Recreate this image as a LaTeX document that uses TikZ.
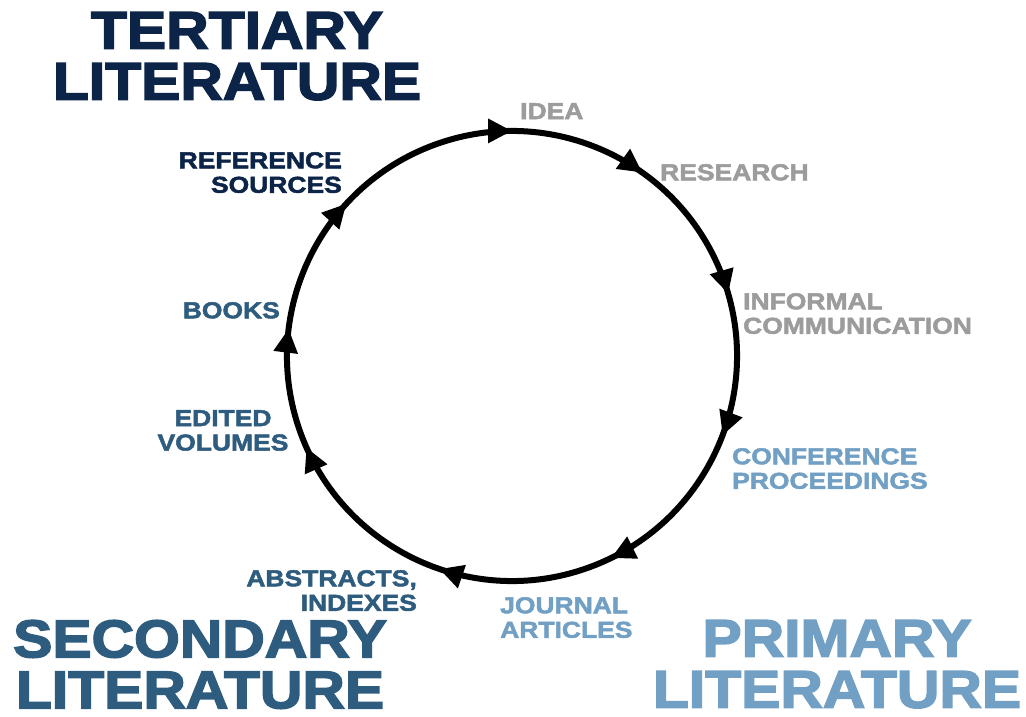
\documentclass[tikz,border=0pt]{standalone}
\usepackage{fontspec}
\setmainfont{Liberation Sans}
\newfontfamily\labfont{Liberation Sans}[FakeStretch=1.15,FakeBold=2.2]
\newfontfamily\ttlfont{Liberation Sans}[FakeStretch=1.11,FakeBold=3]
\usetikzlibrary{decorations.markings,arrows.meta,calc}
\definecolor{tert}{HTML}{0B2447}
\definecolor{sec}{HTML}{2E5C7E}
\definecolor{prim}{HTML}{72A0C4}
\definecolor{grey1}{HTML}{9C9C9C}
\pgfkeys{/pgf/decoration/tipmark/.style={mark=at position #1 with {\arrow{Triangle[length=24pt,width=23pt]}}}}
\tikzset{
  lab/.style={inner sep=0pt, font=\labfont\bfseries\fontsize{23}{24.5}\selectfont},
  ttl/.style={inner sep=0pt, align=center, font=\ttlfont\bfseries\fontsize{53}{51}\selectfont},
  cyc/.style={line width=6pt, postaction={decorate}, decoration={markings,
    tipmark=0.0556, tipmark=0.154, tipmark=0.261, tipmark=0.363, tipmark=0.483,
    tipmark=0.608, tipmark=0.739, tipmark=0.825, tipmark=0.924}}
}
\begin{document}
\begin{tikzpicture}[x=1pt,y=-1pt]
\fill[white] (0,0) rectangle (1026,717);
\useasboundingbox (0,0) rectangle (1026,717);
\coordinate (c) at (512,356);
\draw[cyc] ($(c)+(-110:225)$) arc[start angle=-110,end angle=250,radius=225];

% titles
\node[ttl, text=tert, anchor=north] (tertiary) at (237,12) {TERTIARY\\LITERATURE};
\node[ttl, text=sec, anchor=north] (secondary) at (200,620) {SECONDARY\\LITERATURE};
\node[ttl, text=prim, anchor=north] (primary) at (837,620) {PRIMARY\\LITERATURE};

% primary / informal
\node[lab, text=grey1, anchor=north west] (idea) at (520,103) {IDEA};
\node[lab, text=grey1, anchor=north west] (research) at (660,164) {RESEARCH};
\node[lab, text=grey1, anchor=north west, align=left] (informal) at (743,293) {INFORMAL\\COMMUNICATION};
\node[lab, text=prim, anchor=north west, align=left] (conf) at (732,448) {CONFERENCE\\PROCEEDINGS};
\node[lab, text=prim, anchor=north west, align=left] (journal) at (500,597) {JOURNAL\\ARTICLES};

% secondary
\node[lab, text=sec, anchor=north east, align=right] (abstracts) at (417,570) {ABSTRACTS,\\INDEXES};
\node[lab, text=sec, anchor=north, align=center] (edited) at (223,410) {EDITED\\VOLUMES};
\node[lab, text=sec, anchor=north east] (books) at (280,302) {BOOKS};

% tertiary
\node[lab, text=tert, anchor=north east, align=right] (reference) at (342,152) {REFERENCE\\SOURCES};
\end{tikzpicture}
\end{document}
